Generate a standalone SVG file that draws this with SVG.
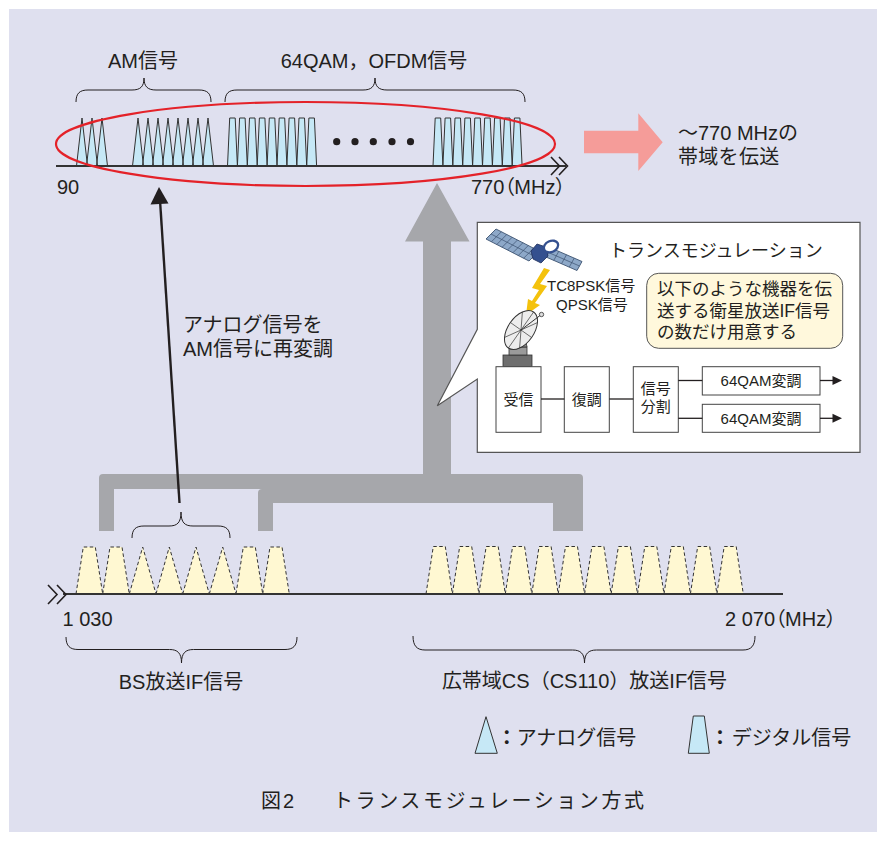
<svg xmlns="http://www.w3.org/2000/svg" xmlns:xlink="http://www.w3.org/1999/xlink" width="886" height="841" viewBox="0 0 886 841">
  <style>
    text { font-family: "Liberation Sans", "Noto Sans CJK JP", sans-serif; fill: #231F20; }
    .t20 { font-size: 20px; }
    .t18 { font-size: 18px; }
    .t17 { font-size: 17.5px; }
    .t15 { font-size: 15px; }
    .mid { text-anchor: middle; }
    .palt { font-feature-settings: "palt"; }
    .brace { fill: none; stroke: #231F20; stroke-width: 1; }
    .axis { fill: none; stroke: #333; stroke-width: 2; }
    .chev { fill: none; stroke: #231F20; stroke-width: 1.6; }
    .blueFill { fill: #C6E8F6; stroke: none; }
    .blueLine { fill: none; stroke: #333; stroke-width: 1; stroke-linejoin: miter; }
    .yellow { fill: #FFF8D2; stroke: #333; stroke-width: 1; stroke-dasharray: 3.5 2.5; }
    .gray { fill: #A6A7AB; }
    .box { fill: #FFFFFF; stroke: #444; stroke-width: 1; }
    .wire { fill: none; stroke: #231F20; stroke-width: 1.3; }
  </style>
  <defs>
    <!-- AM (analog) carriers on the 90-770 MHz axis -->
    <g id="amCarriers">
      <polygon points="76.5,166 82,118 87.5,166"/>
      <polygon points="86.5,166 92,118 97.5,166"/>
      <polygon points="96.5,166 102,118 107.5,166"/>
      <polygon points="132.5,166 138,118 143.5,166"/>
      <polygon points="142.5,166 148,118 153.5,166"/>
      <polygon points="152.5,166 158,118 163.5,166"/>
      <polygon points="162.5,166 168,118 173.5,166"/>
      <polygon points="172.5,166 178,118 183.5,166"/>
      <polygon points="182.5,166 188,118 193.5,166"/>
      <polygon points="192.5,166 198,118 203.5,166"/>
      <polygon points="202.5,166 208,118 213.5,166"/>
    </g>
    <!-- 64QAM / OFDM (digital) carriers -->
    <g id="qamCarriers">
      <polygon points="227.5,166 229.7,118 235.2,118 237.4,166"/>
      <polygon points="237.4,166 239.6,118 245.1,118 247.3,166"/>
      <polygon points="247.3,166 249.5,118 255.0,118 257.2,166"/>
      <polygon points="257.2,166 259.4,118 264.9,118 267.1,166"/>
      <polygon points="267.1,166 269.3,118 274.8,118 277.0,166"/>
      <polygon points="277.0,166 279.2,118 284.7,118 286.9,166"/>
      <polygon points="286.9,166 289.1,118 294.6,118 296.8,166"/>
      <polygon points="296.8,166 299.0,118 304.5,118 306.7,166"/>
      <polygon points="306.7,166 308.9,118 314.4,118 316.6,166"/>
      <polygon points="433.0,166 435.2,118 440.7,118 442.9,166"/>
      <polygon points="442.9,166 445.1,118 450.6,118 452.8,166"/>
      <polygon points="452.8,166 455.0,118 460.5,118 462.7,166"/>
      <polygon points="462.7,166 464.9,118 470.4,118 472.6,166"/>
      <polygon points="472.6,166 474.8,118 480.3,118 482.5,166"/>
      <polygon points="482.5,166 484.7,118 490.2,118 492.4,166"/>
      <polygon points="492.4,166 494.6,118 500.1,118 502.3,166"/>
      <polygon points="502.3,166 504.5,118 510.0,118 512.2,166"/>
      <polygon points="512.2,166 514.4,118 519.9,118 522.1,166"/>
    </g>
  </defs>

  <!-- panel background -->
  <rect x="9" y="9" width="868" height="823" fill="#DFE0EF"/>

  <!-- connectors -->
  <g id="connectors">
    <!-- gray collector from both IF bands and the main upward arrow -->
    <path class="gray" d="M99,531 V478 Q99,474 103,474 H579 Q583,474 583,478 V531 H553 V503 H273 V531 H258 V493 Q258,489 262,489 H114 V531 Z"/>
    <path class="gray" d="M423,476 V241.5 H405 L437,183 L469.5,241.5 H451 V476 Z"/>
    <!-- analog signals re-modulated to AM -->
    <line x1="179.5" y1="503" x2="160" y2="200" stroke="#231F20" stroke-width="2.4"/>
    <polygon points="159,187 150.5,204.5 168.5,203.5" fill="#231F20"/>
    <!-- ~770 MHz transmission arrow -->
    <polygon points="584,130.7 638.3,130.7 638.3,113.3 662.7,142.3 638.3,171 638.3,153.3 584,153.3" fill="#F59C99"/>
  </g>

  <!-- upper spectrum: 90 - 770 MHz -->
  <g id="spectrum-top">
    <text class="t20 mid" x="143" y="68">AM信号</text>
    <text class="t20 mid" x="374" y="68">64QAM，OFDM信号</text>
    <path class="brace" d="M76,102 C76,93 80,90 88,90 H132 C140,90 144,87 144,78 C144,87 148,90 156,90 H199 C207,90 211,93 211,102"/>
    <path class="brace" d="M225,102 C225,93 229,90 237,90 H363 C371,90 375,87 375,78 C375,87 379,90 387,90 H513 C521,90 525,93 525,102"/>
    <use xlink:href="#amCarriers" class="blueFill"/>
    <use xlink:href="#amCarriers" class="blueLine"/>
    <use xlink:href="#qamCarriers" class="blueFill"/>
    <use xlink:href="#qamCarriers" class="blueLine"/>
    <g fill="#231F20">
      <circle cx="336.7" cy="141.7" r="3.6"/>
      <circle cx="355" cy="141.7" r="3.6"/>
      <circle cx="373.3" cy="141.7" r="3.6"/>
      <circle cx="392" cy="141.7" r="3.6"/>
      <circle cx="410.5" cy="141.7" r="3.6"/>
    </g>
    <line class="axis" x1="56" y1="166" x2="566" y2="166"/>
    <path class="chev" d="M551,157 L559.5,166 L551,175 M559,157 L567.5,166 L559,175"/>
    <text class="t20" x="57" y="194">90</text>
    <text class="t20 palt" x="471" y="194">770（MHz）</text>
    <ellipse cx="305.5" cy="144" rx="249.5" ry="42" fill="none" stroke="#E42229" stroke-width="2.2"/>
  </g>

  <!-- note beside the arrow -->
  <g id="band-note">
    <text class="t20" x="678" y="140">～770 MHzの</text>
    <text class="t20" x="678" y="164" letter-spacing="0.3">帯域を伝送</text>
  </g>

  <g id="remod-label">
    <text class="t20" x="183" y="332">アナログ信号を</text>
    <text class="t20" x="183" y="356">AM信号に再変調</text>
  </g>

  <!-- transmodulation callout -->
  <g id="transmodulation">
    <path d="M477.3,222.3 H860 V452.3 H477.3 V379 L437.3,405.7 L477.3,329.3 Z" fill="#FFFFFF" stroke="#555" stroke-width="1.2"/>
    <text class="t18" x="609" y="257">トランスモジュレーション</text>

    <!-- satellite -->
    <g id="satellite" stroke-linejoin="round">
      <polygon points="486,239 496,229 539,251 529,261" fill="#8DA8C8" stroke="#3C5270" stroke-width="0.9"/>
      <g stroke="#3C5270" stroke-width="0.7">
        <line x1="491.4" y1="241.75" x2="501.4" y2="231.75"/>
        <line x1="496.75" y1="244.5" x2="506.75" y2="234.5"/>
        <line x1="502.1" y1="247.25" x2="512.1" y2="237.25"/>
        <line x1="507.5" y1="250" x2="517.5" y2="240"/>
        <line x1="512.9" y1="252.75" x2="522.9" y2="242.75"/>
        <line x1="518.25" y1="255.5" x2="528.25" y2="245.5"/>
        <line x1="523.6" y1="258.25" x2="533.6" y2="248.25"/>
        <line x1="491" y1="234" x2="534" y2="256"/>
      </g>
      <polygon points="546,257 551,248 582,261.5 577,270.5" fill="#8DA8C8" stroke="#3C5270" stroke-width="0.9"/>
      <g stroke="#3C5270" stroke-width="0.7">
        <line x1="553.75" y1="260.4" x2="558.75" y2="251.4"/>
        <line x1="561.5" y1="263.75" x2="566.5" y2="254.75"/>
        <line x1="569.25" y1="267.1" x2="574.25" y2="258.1"/>
        <line x1="548.5" y1="252.5" x2="579.5" y2="266"/>
      </g>
      <polygon points="531,251 537,244 546,247 548,256 541,263 533,259" fill="#34508F" stroke="#1E2F5A" stroke-width="0.8"/>
      <ellipse cx="551" cy="246.5" rx="7.5" ry="5.5" transform="rotate(-25 551 246.5)" fill="#FFFFFF" stroke="#34508F" stroke-width="2.4"/>
    </g>

    <!-- down-link lightning -->
    <polygon points="544,268 550,270 540,284 547,286 535,303 540,305 526,315 528,299 532,301 539,290 532,288" fill="#F4C20D"/>

    <text class="t15" x="547" y="291">TC8PSK信号</text>
    <text class="t15" x="556" y="310">QPSK信号</text>

    <!-- receiving dish -->
    <g id="dish">
      <rect x="503" y="355" width="29" height="11.5" fill="#6E6E6E" stroke="#333" stroke-width="0.8"/>
      <rect x="509" y="347" width="18" height="8" fill="#9A9A9A" stroke="#333" stroke-width="0.8"/>
      <polygon points="512,347 515,337 525,337 527,347" fill="#8A8A8A" stroke="#333" stroke-width="0.8"/>
      <ellipse cx="521" cy="330" rx="22" ry="13" transform="rotate(-55 521 330)" fill="#EDEDED" stroke="#333" stroke-width="1"/>
      <g stroke="#333" stroke-width="0.7">
        <line x1="521" y1="330" x2="533.6" y2="312"/>
        <line x1="521" y1="330" x2="537.4" y2="322.6"/>
        <line x1="521" y1="330" x2="531.6" y2="337.5"/>
        <line x1="521" y1="330" x2="519.6" y2="348"/>
        <line x1="521" y1="330" x2="508.4" y2="348"/>
        <line x1="521" y1="330" x2="504.6" y2="337.4"/>
        <line x1="521" y1="330" x2="510.4" y2="322.5"/>
        <line x1="521" y1="330" x2="522.4" y2="312"/>
      </g>
      <line x1="521" y1="330" x2="540" y2="315.5" stroke="#333" stroke-width="1"/>
      <circle cx="541.5" cy="314.5" r="2.2" fill="#DDD" stroke="#333" stroke-width="0.8"/>
    </g>

    <!-- note -->
    <rect x="646.7" y="273.3" width="196" height="75" rx="12" fill="#FFF8DC" stroke="#555" stroke-width="1"/>
    <text class="t17" x="657" y="295">以下のような機器を伝</text>
    <text class="t17" x="657" y="316.5">送する衛星放送IF信号</text>
    <text class="t17" x="657" y="337.7">の数だけ用意する</text>

    <!-- block chain -->
    <g id="blk-recv">
      <rect class="box" x="496" y="366.7" width="45" height="65.6"/>
      <text class="t15 mid" x="518.5" y="405">受信</text>
    </g>
    <g id="blk-demod">
      <rect class="box" x="564.3" y="366.7" width="45" height="65.6"/>
      <text class="t15 mid" x="586.8" y="405">復調</text>
    </g>
    <g id="blk-split">
      <rect class="box" x="633.3" y="366.7" width="45" height="65.6"/>
      <text class="t15 mid" x="655.8" y="394">信号</text>
      <text class="t15 mid" x="655.8" y="412">分割</text>
    </g>
    <g id="blk-mod1">
      <rect class="box" x="702.3" y="366.7" width="117.7" height="28.3"/>
      <text class="t15 mid" x="761" y="386">64QAM変調</text>
    </g>
    <g id="blk-mod2">
      <rect class="box" x="702.3" y="404.3" width="117.7" height="28"/>
      <text class="t15 mid" x="761" y="424">64QAM変調</text>
    </g>
    <g id="blk-wires">
      <line class="wire" x1="541" y1="399" x2="564.3" y2="399"/>
      <line class="wire" x1="609.3" y1="399" x2="633.3" y2="399"/>
      <line class="wire" x1="678.3" y1="380.5" x2="702.3" y2="380.5"/>
      <line class="wire" x1="678.3" y1="418.3" x2="702.3" y2="418.3"/>
      <line class="wire" x1="820" y1="380.5" x2="834" y2="380.5"/>
      <line class="wire" x1="820" y1="418.3" x2="834" y2="418.3"/>
      <polygon points="832.5,376 842,380.5 832.5,385" fill="#231F20"/>
      <polygon points="832.5,413.8 842,418.3 832.5,422.8" fill="#231F20"/>
    </g>
  </g>

  <!-- lower spectrum: 1 030 - 2 070 MHz -->
  <g id="spectrum-bottom">
    <path class="brace" d="M132,538 C132,529 136,526 144,526 H169 C177,526 181,523 181,512 C181,523 185,526 193,526 H218 C226,526 230,529 230,538"/>
    <g id="bs-carriers">
      <polygon class="yellow" points="76,594 83.3,547 95.3,547 102.7,594"/>
      <polygon class="yellow" points="102.7,594 110,547 122,547 129.3,594"/>
      <polygon class="yellow" points="129.3,594 142.7,547 156,594"/>
      <polygon class="yellow" points="156,594 169.3,547 182.7,594"/>
      <polygon class="yellow" points="182.7,594 196,547 209.3,594"/>
      <polygon class="yellow" points="209.3,594 222.7,547 236,594"/>
      <polygon class="yellow" points="236,594 243.3,547 255.3,547 262.7,594"/>
      <polygon class="yellow" points="262.7,594 270,547 282,547 289.3,594"/>
    </g>
    <g id="cs-carriers">
      <polygon class="yellow" points="426.0,594 433.3,546.5 445.3,546.5 452.4,594"/>
      <polygon class="yellow" points="452.4,594 459.7,546.5 471.7,546.5 478.9,594"/>
      <polygon class="yellow" points="478.9,594 486.2,546.5 498.2,546.5 505.3,594"/>
      <polygon class="yellow" points="505.3,594 512.6,546.5 524.6,546.5 531.8,594"/>
      <polygon class="yellow" points="531.8,594 539.1,546.5 551.1,546.5 558.2,594"/>
      <polygon class="yellow" points="558.2,594 565.5,546.5 577.5,546.5 584.6,594"/>
      <polygon class="yellow" points="584.6,594 591.9,546.5 603.9,546.5 611.1,594"/>
      <polygon class="yellow" points="611.1,594 618.4,546.5 630.4,546.5 637.5,594"/>
      <polygon class="yellow" points="637.5,594 644.8,546.5 656.8,546.5 664.0,594"/>
      <polygon class="yellow" points="664.0,594 671.3,546.5 683.3,546.5 690.4,594"/>
      <polygon class="yellow" points="690.4,594 697.7,546.5 709.7,546.5 716.9,594"/>
      <polygon class="yellow" points="716.9,594 724.2,546.5 736.2,546.5 743.3,594"/>
    </g>
    <line class="axis" x1="63" y1="594" x2="783" y2="594"/>
    <path class="chev" d="M48,585 L57,594.5 L48,604 M57,585 L66,594.5 L57,604"/>
    <text class="t20" x="62.5" y="626">1 030</text>
    <text class="t20 palt" x="725" y="626">2 070（MHz）</text>
    <path class="brace" d="M66,637 C66,646 70,649.5 78,649.5 H169.5 C177.5,649.5 181.5,653 181.5,663 C181.5,653 185.5,649.5 193.5,649.5 H285 C293,649.5 297,646 297,637"/>
    <path class="brace" d="M413,636 C413,646 417,650 425,650 H572.5 C580.5,650 584.5,653.5 584.5,663 C584.5,653.5 588.5,650 596.5,650 H743 C751,650 755,646 755,636"/>
    <text class="t20 mid" x="181" y="689">BS放送IF信号</text>
    <text class="t20 mid" x="584.5" y="688">広帯域CS（CS110）放送IF信号</text>
  </g>

  <!-- legend -->
  <g id="legend">
    <polygon points="475,753.3 486,716.7 497.3,753.3" fill="#C6E8F6" stroke="#333" stroke-width="1"/>
    <text class="t20" y="745"><tspan x="496.7" font-weight="bold">：</tspan><tspan x="516.7">アナログ信号</tspan></text>
    <polygon points="688.3,753.3 693.3,716 704.3,716 709.3,753.3" fill="#C6E8F6" stroke="#333" stroke-width="1"/>
    <text class="t20" y="745"><tspan x="710" font-weight="bold">：</tspan><tspan x="731.7">デジタル信号</tspan></text>
  </g>

  <!-- caption -->
  <g id="caption">
    <text x="261" y="808" font-size="20" textLength="33">図2</text>
    <text x="333" y="808" font-size="20" textLength="311">トランスモジュレーション方式</text>
  </g>
</svg>
